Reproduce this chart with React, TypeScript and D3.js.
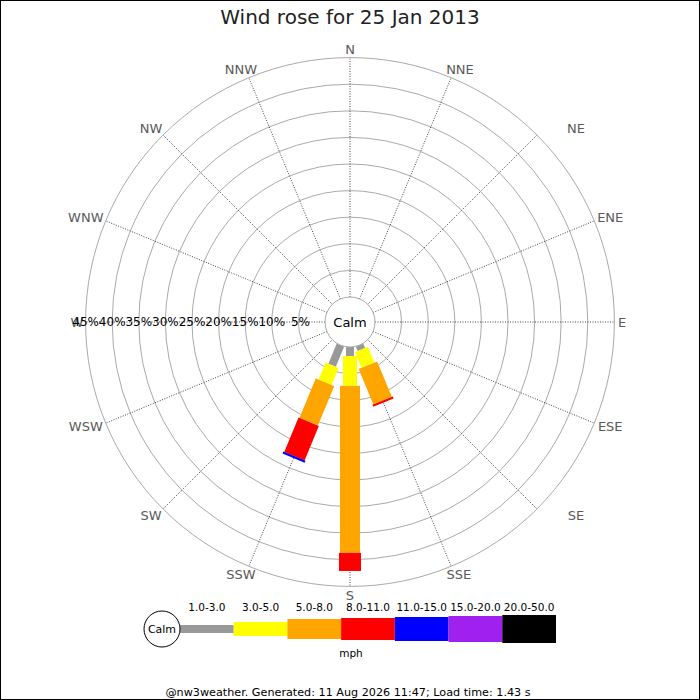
import React from "react";
import * as d3 from "d3";

// ---- data ----
const directions = ["N","NNE","NE","ENE","E","ESE","SE","SSE","S","SSW","SW","WSW","W","WNW","NW","NNW"];
const speedBins = ["1.0-3.0","3.0-5.0","5.0-8.0","8.0-11.0","11.0-15.0","15.0-20.0","20.0-50.0"];
const binColors = ["#999999","#ffff00","#ffa500","#ff0000","#0000ff","#a020f0","#000000"];
// percentage of observations per direction (N..NNW) per speed bin
const bin1to3   = [0,0,0,0,0,0,0,0.9,1.7,4.1,0,0,0,0,0,0];
const bin3to5   = [0,0,0,0,0,0,0,3.2,5.6,3.5,0,0,0,0,0,0];
const bin5to8   = [0,0,0,0,0,0,0,7.2,31.4,8.0,0,0,0,0,0,0];
const bin8to11  = [0,0,0,0,0,0,0,0.4,3.4,7.0,0,0,0,0,0,0];
const bin11to15 = [0,0,0,0,0,0,0,0,0,0.4,0,0,0,0,0,0];
const bin15to20 = [0,0,0,0,0,0,0,0,0,0,0,0,0,0,0,0];
const bin20to50 = [0,0,0,0,0,0,0,0,0,0,0,0,0,0,0,0];
const ringTicks = [5,10,15,20,25,30,35,40,45];
const title = "Wind rose for 25 Jan 2013";
const footer = "@nw3weather. Generated: 11 Aug 2026 11:47; Load time: 1.43 s";
const unitLabel = "mph";

const series = [bin1to3, bin3to5, bin5to8, bin8to11, bin11to15, bin15to20, bin20to50];

// ---- layout / style ----
const W = 700, H = 700;
const cx = 350, cy = 322;
const calmR = 25;
const barWidths = [8, 14, 20, 22, 24, 26, 28];
const labelR = 273;
const labelNudge: Record<string, number> = {
  NNE: 5.5, NE: 33, ENE: 8, E: -1, ESE: 8, SE: 33, SSE: 4.5,
  SSW: -4.5, SW: -6, WSW: -12, WNW: -12, NW: -6, NNW: -4.5,
};

export default function App() {
  const r = d3.scaleLinear().domain([0, 45]).range([calmR, 264.4]);
  const angle = d3.scalePoint<string>().domain(directions).range([0, 360 - 22.5]);

  // stacked segments
  const segs: { dir: string; bin: number; r0: number; r1: number }[] = [];
  directions.forEach((dir, di) => {
    let cum = 0;
    series.forEach((s, bi) => {
      const v = s[di];
      if (v > 0) {
        segs.push({ dir, bin: bi, r0: r(cum), r1: r(cum + v) });
        cum += v;
      }
    });
  });

  const legendX = d3.scaleBand<string>().domain(speedBins).range([180, 556]);
  const legendY = 629;

  return (
    <svg
      width={W}
      height={H}
      style={{ position: "absolute", left: 0, top: 0, display: "block", background: "#fff" }}
      fontFamily="DejaVu Sans"
    >
      <rect x={0} y={0} width={W} height={H} fill="#fff" />
      <text x={350} y={24} textAnchor="middle" fontSize={20} fill="#222">{title}</text>

      {/* rings */}
      {ringTicks.map((t) => (
        <circle key={t} cx={cx} cy={cy} r={r(t)} fill="none" stroke="#aaaaaa" strokeWidth={1} />
      ))}
      {/* spokes */}
      {directions.map((d) => {
        const a = ((angle(d) as number) * Math.PI) / 180;
        return (
          <line
            key={d}
            x1={cx + Math.sin(a) * calmR}
            y1={cy - Math.cos(a) * calmR}
            x2={cx + Math.sin(a) * r(45)}
            y2={cy - Math.cos(a) * r(45)}
            stroke="#444"
            strokeWidth={1}
            strokeDasharray="1,1.5"
          />
        );
      })}
      {/* compass labels */}
      {directions.map((d) => {
        const a = ((angle(d) as number) * Math.PI) / 180;
        return (
          <text
            key={d}
            x={cx + Math.sin(a) * labelR + (labelNudge[d] || 0)}
            y={cy - Math.cos(a) * labelR}
            textAnchor="middle"
            dominantBaseline="central"
            fontSize={13}
            fill="#5a5a5a"
          >
            {d}
          </text>
        );
      })}
      {/* percentage labels */}
      {ringTicks.map((t) => (
        <text key={t} x={cx - r(t) + (t === 5 ? 2 : 0)} y={cy} textAnchor="middle" dominantBaseline="central" fontSize={12} fill="#000">
          {t}%
        </text>
      ))}
      {/* bars */}
      {segs.map((s, i) => (
        <g key={i} transform={`translate(${cx},${cy}) rotate(${angle(s.dir)})`}>
          <rect
            x={-barWidths[s.bin] / 2}
            y={-s.r1}
            width={barWidths[s.bin]}
            height={s.r1 - s.r0}
            fill={binColors[s.bin]}
          />
        </g>
      ))}
      {/* calm circle */}
      <circle cx={cx} cy={cy} r={calmR} fill="#fff" stroke="#aaaaaa" strokeWidth={1} />
      <text x={cx} y={cy} textAnchor="middle" dominantBaseline="central" fontSize={13} fill="#000">Calm</text>

      {/* legend */}
      {speedBins.map((b, i) => {
        const x = legendX(b) as number;
        const w = legendX.bandwidth();
        return (
          <g key={b}>
            <rect x={x} y={legendY - barWidths[i] / 2} width={w} height={barWidths[i]} fill={binColors[i]} />
            <text x={x + w / 2} y={607} textAnchor="middle" dominantBaseline="central" fontSize={10.5} fill="#000">
              {b}
            </text>
          </g>
        );
      })}
      <circle cx={162} cy={legendY} r={18} fill="#fff" stroke="#000" strokeWidth={1} />
      <text x={162} y={legendY} textAnchor="middle" dominantBaseline="central" fontSize={11} fill="#000">Calm</text>
      <text x={351} y={653} textAnchor="middle" dominantBaseline="central" fontSize={10.5} fill="#000">{unitLabel}</text>

      <text x={348} y={692} textAnchor="middle" dominantBaseline="central" fontSize={11.2} fill="#000">{footer}</text>

      <rect x={0.5} y={0.5} width={W - 1} height={H - 1} fill="none" stroke="#000" strokeWidth={1} />
    </svg>
  );
}
